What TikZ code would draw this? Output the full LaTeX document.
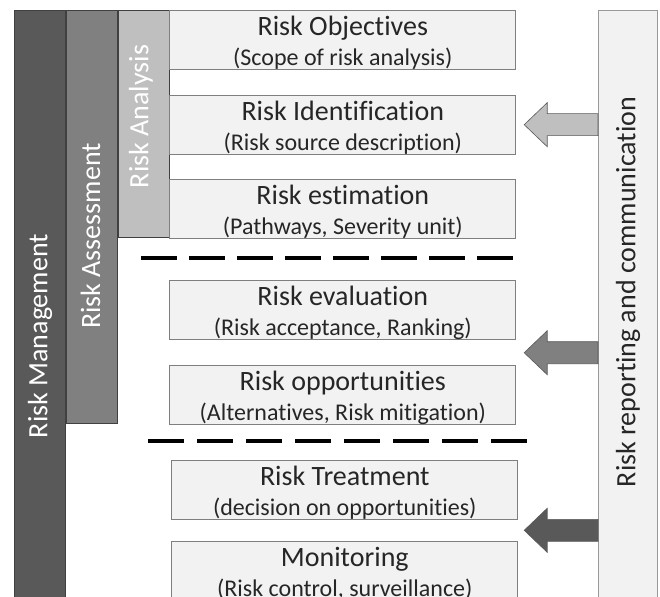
\documentclass[tikz,border=0pt]{standalone}
\usepackage{fontspec}
\setmainfont[Ligatures={NoCommon}]{Carlito}
\usetikzlibrary{positioning,calc}
\definecolor{mgmtgray}{HTML}{595959}
\definecolor{assessgray}{HTML}{808080}
\definecolor{analysisgray}{HTML}{BFBFBF}
\definecolor{boxfill}{HTML}{F2F2F2}
\definecolor{boxline}{HTML}{7F7F7F}
\newcommand{\subline}[1]{{\fontsize{24}{29}\selectfont #1}}
\tikzset{
  riskbar/.style={draw=black!75,line width=0.8pt,anchor=north west,inner sep=0pt,minimum width=51pt},
  barlabel/.style={rotate=90,font=\fontsize{28}{30}\selectfont,text=white,inner sep=0pt},
  stepbox/.style={draw=boxline,fill=boxfill,line width=0.8pt,minimum width=346pt,inner sep=0pt,text height=55pt,text depth=4pt,align=center,font=\fontsize{28}{30}\selectfont,text=black!85},
  sepline/.style={line width=4pt,draw=black,dash pattern=on 36pt off 12pt},
  feedarrow/.style={draw=black!65,line width=0.6pt,to path={let \p1=(\tikztostart),\p2=(\tikztotarget) in (\x1,\y1+11pt) -- (\x2+23pt,\y1+11pt) -- (\x2+23pt,\y1+22pt) -- (\x2,\y1) -- (\x2+23pt,\y1-22pt) -- (\x2+23pt,\y1-11pt) -- (\x1,\y1-11pt) -- cycle}}
}
\begin{document}
\begin{tikzpicture}[x=1pt,y=-1pt]
  \useasboundingbox (0,0) rectangle (660,596);
  \clip (0,0) rectangle (660,596);
  % nested process bars
  \node[riskbar,fill=mgmtgray,minimum height=600pt] (mgmt) at (14,10) {};
  \node[riskbar,fill=assessgray,minimum height=413pt] (assess) at (mgmt.north east) {};
  \node[riskbar,fill=analysisgray,minimum height=227pt] (analysis) at (assess.north east) {};
  \node[barlabel] (mgmtlabel) at (40,336) {Risk Management};
  \node[barlabel] (assesslabel) at (90.5,236) {Risk Assessment};
  \node[barlabel] (analysislabel) at (141,116.5) {Risk Analysis};
  % steps
  \node[stepbox,anchor=north west] (obj) at (analysis.north east) {Risk Objectives\\\subline{(Scope of risk analysis)}};
  \node[stepbox,below=25pt of obj] (ident) {Risk Identification\\\subline{(Risk source description)}};
  \node[stepbox,below=24pt of ident] (estim) {Risk estimation\\\subline{(Pathways, Severity unit)}};
  \node[stepbox,below=42pt of estim] (evalu) {Risk evaluation\\\subline{(Risk acceptance, Ranking)}};
  \node[stepbox,below=25pt of evalu] (oppo) {Risk opportunities\\\subline{(Alternatives, Risk mitigation)}};
  \node[stepbox,below=35pt of oppo,xshift=2pt] (treat) {Risk Treatment\\\subline{(decision on opportunities)}};
  \node[stepbox,below=21pt of treat] (monit) {Monitoring\\\subline{(Risk control, surveillance)}};
  % separators
  \draw[sepline] (141,258) -- (513,258);
  \draw[sepline,dash pattern=on 36pt off 13pt] (148,441) -- (527,441);
  % reporting bar
  \node[riskbar,fill=boxfill,draw=black!40,minimum width=59pt,minimum height=600pt] (report) at (598,10) {};
  \node[barlabel,text=black!85] (reportlabel) at (628,292) {Risk reporting and communication};
  % feedback arrows
  \coordinate (tipA) at ($(ident.east)+(8pt,0)$);
  \coordinate (tipB) at ($(evalu.south east)!0.5!(oppo.north east)+(8pt,0)$);
  \coordinate (tipC) at ($(treat.south east)!0.5!(monit.north east)+(6pt,0)$);
  \draw[feedarrow,fill=analysisgray] (report.west |- tipA) to (tipA);
  \draw[feedarrow,fill=assessgray] (report.west |- tipB) to (tipB);
  \draw[feedarrow,fill=mgmtgray] (report.west |- tipC) to (tipC);
\end{tikzpicture}
\end{document}
